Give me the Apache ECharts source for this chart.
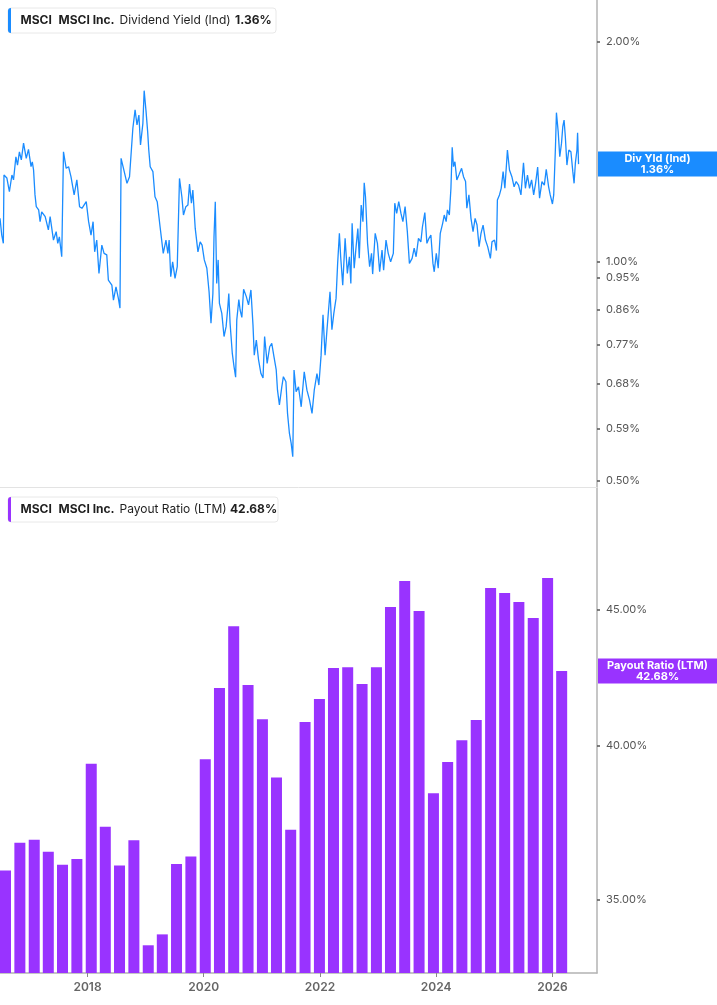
<!DOCTYPE html>
<html>
<head>
<meta charset="utf-8">
<style>
  html, body { margin: 0; padding: 0; background: #fff; }
  #chart1 { width: 717px; height: 1005px; }
</style>
</head>
<body>
<div id="chart1"></div>
<script src="https://cdn.jsdelivr.net/npm/echarts@6/dist/echarts.min.js"></script>
<script>
  // dividend yield (Ind)
  const yieldDates = [
    '2016-06-30','2016-07-11','2016-07-21','2016-07-25','2016-08-12','2016-08-28','2016-09-13','2016-09-23','2016-10-08','2016-10-18',
    '2016-10-30','2016-11-11','2016-11-25','2016-12-12','2016-12-26','2017-01-11','2017-01-19','2017-01-27','2017-02-05','2017-02-13',
    '2017-02-28','2017-03-09','2017-03-19','2017-04-10','2017-04-30','2017-05-11','2017-06-01','2017-06-18','2017-06-28','2017-07-08',
    '2017-07-23','2017-08-03','2017-08-20','2017-09-04','2017-09-19','2017-10-09','2017-10-26','2017-11-12','2017-11-27','2017-12-24',
    '2018-01-08','2018-01-23','2018-02-05','2018-02-15','2018-02-28','2018-03-14','2018-04-01','2018-04-15','2018-05-02','2018-05-12',
    '2018-06-03','2018-06-13','2018-06-29','2018-07-14','2018-07-24','2018-07-31','2018-08-15','2018-09-06','2018-09-22','2018-10-02',
    '2018-10-13','2018-10-27','2018-11-08','2018-11-20','2018-11-30','2018-12-15','2018-12-23','2019-01-04','2019-01-14','2019-01-21',
    '2019-01-30','2019-02-16','2019-03-01','2019-03-15','2019-04-02','2019-04-22','2019-05-09','2019-05-21','2019-05-29','2019-06-08',
    '2019-06-20','2019-07-05','2019-07-19','2019-08-02','2019-08-17','2019-08-27','2019-09-11','2019-09-24','2019-10-04','2019-10-16',
    '2019-10-25','2019-11-09','2019-11-26','2019-12-10','2019-12-22','2020-01-05','2020-01-21','2020-02-04','2020-02-16','2020-02-28',
    '2020-03-06','2020-03-14','2020-03-23','2020-04-01','2020-04-09','2020-04-24','2020-05-08','2020-05-21','2020-06-01','2020-06-07',
    '2020-06-15','2020-06-29','2020-07-10','2020-07-20','2020-07-27','2020-08-09','2020-08-17','2020-08-28','2020-09-08','2020-09-25',
    '2020-10-09','2020-10-24','2020-11-06','2020-11-14','2020-11-27','2020-12-11','2020-12-26','2021-01-08','2021-01-18','2021-02-03',
    '2021-02-19','2021-03-04','2021-03-18','2021-04-01','2021-04-09','2021-04-21','2021-05-06','2021-05-16','2021-06-01','2021-06-11',
    '2021-06-23','2021-07-04','2021-07-14','2021-07-22','2021-08-04','2021-08-19','2021-09-05','2021-09-24','2021-10-11','2021-10-27',
    '2021-11-12','2021-11-26','2021-12-13','2021-12-25','2022-01-08','2022-01-20','2022-02-02','2022-02-14','2022-03-05','2022-03-17',
    '2022-03-29','2022-04-12','2022-04-22','2022-05-03','2022-05-11','2022-05-24','2022-06-08','2022-06-22','2022-07-05','2022-07-14',
    '2022-07-22','2022-08-04','2022-08-16','2022-08-27','2022-09-05','2022-09-17','2022-09-28','2022-10-06','2022-10-14','2022-10-27',
    '2022-11-09','2022-11-21','2022-11-28','2022-12-14','2022-12-28','2023-01-11','2023-01-26','2023-02-05','2023-02-20','2023-03-06',
    '2023-03-21','2023-04-07','2023-04-16','2023-04-28','2023-05-11','2023-05-25','2023-06-06','2023-06-20','2023-07-04','2023-07-17',
    '2023-08-03','2023-08-16','2023-08-28','2023-09-12','2023-09-27','2023-10-07','2023-10-22','2023-11-04','2023-11-17','2023-11-29',
    '2023-12-12','2023-12-20','2024-01-02','2024-01-14','2024-01-27','2024-02-11','2024-02-21','2024-03-04','2024-03-12','2024-03-24',
    '2024-04-03','2024-04-11','2024-04-19','2024-04-28','2024-05-10','2024-05-23','2024-06-09','2024-06-21','2024-07-04','2024-07-12',
    '2024-07-25','2024-08-07','2024-08-20','2024-09-02','2024-09-14','2024-09-27','2024-10-09','2024-10-22','2024-11-06','2024-11-20',
    '2024-12-07','2024-12-17','2025-01-02','2025-01-14','2025-01-20','2025-02-02','2025-02-13','2025-02-25','2025-03-08','2025-03-20',
    '2025-03-24','2025-04-06','2025-04-21','2025-05-05','2025-05-18','2025-06-02','2025-06-17','2025-07-03','2025-07-15','2025-07-28',
    '2025-08-10','2025-08-23','2025-09-05','2025-09-17','2025-09-30','2025-10-12','2025-10-27','2025-11-11','2025-11-23','2025-12-08',
    '2025-12-18','2026-01-01','2026-01-09','2026-01-20','2026-01-26','2026-02-06','2026-02-16','2026-02-27','2026-03-07','2026-03-15',
    '2026-03-23','2026-04-02','2026-04-14','2026-04-27','2026-05-09','2026-05-17','2026-05-25','2026-06-04','2026-06-08','2026-06-14'
  ];
  const yieldValues = [
    1.146,1.087,1.059,1.314,1.302,1.247,1.314,1.294,1.392,1.356,
    1.414,1.378,1.453,1.385,1.425,1.349,1.370,1.335,1.234,1.189,
    1.177,1.134,1.170,1.152,1.105,1.152,1.070,1.099,1.059,1.081,
    1.015,1.414,1.342,1.349,1.307,1.234,1.294,1.189,1.183,1.208,
    1.134,1.087,1.134,1.031,1.070,0.963,1.053,1.026,1.021,0.943,
    0.928,0.885,0.923,0.890,0.863,1.385,1.342,1.280,1.307,1.300,
    1.523,1.614,1.539,1.588,1.445,1.547,1.715,1.605,1.507,1.422,
    1.349,1.328,1.227,1.208,1.116,1.026,1.070,1.026,1.070,0.953,
    0.999,0.948,0.984,1.300,1.227,1.158,1.189,1.195,1.277,1.202,
    1.253,1.110,1.031,1.064,1.053,1.005,0.979,0.909,0.823,0.904,
    1.081,1.208,0.933,1.005,0.876,0.849,0.789,0.814,0.867,0.904,
    0.823,0.748,0.717,0.694,0.831,0.887,0.858,0.838,0.916,0.895,
    0.872,0.914,0.818,0.744,0.780,0.733,0.702,0.692,0.789,0.725,
    0.764,0.772,0.740,0.710,0.666,0.636,0.673,0.695,0.684,0.619,
    0.581,0.563,0.540,0.710,0.663,0.673,0.632,0.706,0.666,0.646,
    0.619,0.666,0.702,0.677,0.744,0.845,0.744,0.806,0.909,0.806,
    0.849,0.890,0.994,1.093,1.015,0.928,1.076,0.963,1.015,0.933,
    1.128,0.979,1.048,1.110,1.010,1.195,1.134,1.282,1.227,1.059,
    0.984,1.026,0.961,1.093,1.059,0.968,1.037,0.973,1.070,1.026,
    0.999,1.026,1.202,1.164,1.208,1.164,1.134,1.189,1.099,0.994,
    1.010,1.043,1.015,1.076,1.064,1.116,1.167,1.059,1.076,1.087,
    0.994,0.968,1.026,0.979,1.093,1.128,1.158,1.134,1.177,1.158,
    1.260,1.434,1.349,1.370,1.294,1.314,1.342,1.307,1.287,1.183,
    1.234,1.146,1.099,1.146,1.122,1.048,1.093,1.122,1.070,1.048,
    1.010,1.064,1.070,1.035,1.214,1.234,1.260,1.328,1.260,1.378,
    1.422,1.335,1.307,1.266,1.287,1.273,1.234,1.366,1.260,1.314,
    1.260,1.294,1.234,1.280,1.347,1.221,1.287,1.273,1.338,1.266,
    1.234,1.199,1.234,1.437,1.600,1.507,1.392,1.453,1.531,1.563,
    1.483,1.356,1.422,1.414,1.328,1.280,1.364,1.422,1.502,1.360
  ];

  // payout ratio (LTM), quarterly
  const payoutDates = [
    '2016-06-30','2016-09-30','2016-12-31','2017-03-31','2017-06-30','2017-09-30','2017-12-31','2018-03-31',
    '2018-06-30','2018-09-30','2018-12-31','2019-03-31','2019-06-30','2019-09-30','2019-12-31','2020-03-31',
    '2020-06-30','2020-09-30','2020-12-31','2021-03-31','2021-06-30','2021-09-30','2021-12-31','2022-03-31',
    '2022-06-30','2022-09-30','2022-12-31','2023-03-31','2023-06-30','2023-09-30','2023-12-31','2024-03-31',
    '2024-06-30','2024-09-30','2024-12-31','2025-03-31','2025-06-30','2025-09-30','2025-12-31','2026-03-31'
  ];
  const payoutValues = [
    35.89, 36.76, 36.86, 36.48, 36.07, 36.25, 39.37, 37.28,
    36.04, 36.84, 33.63, 33.95, 36.09, 36.33, 39.53, 42.05,
    44.37, 42.16, 40.93, 38.91, 37.18, 40.83, 41.65, 42.79,
    42.82, 42.20, 42.82, 45.12, 46.15, 44.96, 38.38, 39.43,
    40.19, 40.90, 45.87, 45.67, 45.31, 44.69, 46.27, 42.68
  ];

  const yieldTicks = [0.5, 0.59, 0.68, 0.77, 0.86, 0.95, 1.0, 2.0];
  const payoutTicks = [35, 40, 45];
  const yearTicks = [2018, 2020, 2022, 2024, 2026];

  const BLUE = '#1a8cff';
  const PURPLE = '#9933ff';
  const FONT = 'Inter';
  const X_MIN = '2016-06-30';
  const X_MAX = '2026-10-08';
  // same span as decimal years, for the year tick axis
  const YEAR_MIN = 2016.4945;
  const YEAR_MAX = 2026.767;
  const GRID_RIGHT = 120;

  let myChart = echarts.init(document.getElementById('chart1'));

  function pct(v) {
    return v.toFixed(2) + '%';
  }

  function rightAxis(grid, min, max, ticks) {
    return {
      type: 'log',
      logBase: 10,
      gridIndex: grid,
      position: 'right',
      min: min,
      max: max,
      axisLine: { show: true, lineStyle: { color: '#b3b3b3', width: 1.5 } },
      axisTick: { show: true, customValues: ticks, length: 3, lineStyle: { color: '#555', width: 1.5 } },
      axisLabel: { customValues: ticks, formatter: pct, color: '#555', fontSize: 11, fontFamily: FONT, margin: 9 },
      splitLine: { show: false }
    };
  }

  let option = {
    animation: false,
    backgroundColor: '#fff',
    grid: [
      { left: 0, right: GRID_RIGHT, top: 0, height: 487 },
      { left: 0, right: GRID_RIGHT, top: 488, height: 485 }
    ],
    xAxis: [
      {
        type: 'time', gridIndex: 0, min: X_MIN, max: X_MAX, position: 'bottom',
        axisLine: { show: true, lineStyle: { color: '#e3e3e3', width: 1 } },
        axisTick: { show: false },
        axisLabel: { show: false },
        splitLine: { show: false }
      },
      {
        type: 'time', gridIndex: 1, min: X_MIN, max: X_MAX, position: 'bottom',
        axisLine: { show: true, lineStyle: { color: '#b3b3b3', width: 1.5 } },
        axisTick: { show: false },
        axisLabel: { show: false },
        splitLine: { show: false }
      },
      {
        type: 'value', gridIndex: 1, min: YEAR_MIN, max: YEAR_MAX, position: 'bottom',
        axisLine: { show: false },
        axisTick: { show: true, customValues: yearTicks, length: 4, lineStyle: { color: '#888' } },
        axisLabel: {
          customValues: yearTicks,
          formatter: function (v) { return String(Math.round(v)); },
          color: '#666', fontSize: 12, fontWeight: 600, fontFamily: FONT, margin: 8
        },
        splitLine: { show: false }
      }
    ],
    yAxis: [
      rightAxis(0, 0.4906, 2.2836, yieldTicks),
      rightAxis(1, 32.83, 50.03, payoutTicks)
    ],
    series: [
      {
        type: 'line',
        xAxisIndex: 0, yAxisIndex: 0,
        showSymbol: false,
        lineStyle: { color: BLUE, width: 1.3 },
        itemStyle: { color: BLUE },
        data: yieldDates.map(function (d, i) { return [d, yieldValues[i]]; })
      },
      {
        type: 'bar',
        xAxisIndex: 1, yAxisIndex: 1,
        barWidth: 11,
        clip: true,
        itemStyle: { color: PURPLE },
        data: payoutDates.map(function (d, i) { return [d, payoutValues[i]]; })
      }
    ]
  };
  myChart.setOption(option);

  // legend boxes at top-left of each panel
  function legendBox(y, color, metric, value, valueX, width) {
    let txt = function (x, s, bold) {
      return {
        type: 'text', x: x, y: 12.5,
        style: { text: s, fill: '#1f1f1f', fontSize: 12, fontFamily: FONT, fontWeight: bold ? 700 : 400, verticalAlign: 'middle' }
      };
    };
    return {
      type: 'group', x: 8, y: y,
      children: [
        { type: 'rect', shape: { x: 0, y: 0, width: width, height: 25, r: 3 }, style: { fill: '#fff', stroke: '#e8e8e8', lineWidth: 1 } },
        { type: 'rect', shape: { x: 0, y: 0, width: 3, height: 25, r: [3, 0, 0, 3] }, style: { fill: color } },
        txt(12.5, 'MSCI', true),
        txt(50.5, 'MSCI Inc.', true),
        txt(111.5, metric, false),
        txt(valueX, value, true)
      ]
    };
  }

  // value tag on the right axis, placed through the axis scale
  function valueTag(yAxisIndex, val, color, name) {
    let py = myChart.convertToPixel({ yAxisIndex: yAxisIndex }, val);
    let x0 = 717 - GRID_RIGHT + 1;
    return {
      type: 'group', x: x0, y: py,
      children: [
        { type: 'rect', shape: { x: 0, y: -12.5, width: GRID_RIGHT, height: 25 }, style: { fill: color } },
        {
          type: 'text', x: (GRID_RIGHT - 1) / 2, y: 0,
          style: {
            text: name + '\n' + pct(val), fill: '#fff', fontSize: 11, fontWeight: 700, fontFamily: FONT,
            align: 'center', verticalAlign: 'middle', lineHeight: 11
          }
        }
      ]
    };
  }

  let lastYield = yieldValues[yieldValues.length - 1];
  let lastPayout = payoutValues[payoutValues.length - 1];
  myChart.setOption({
    graphic: [
      legendBox(8, BLUE, 'Dividend Yield (Ind)', pct(lastYield), 227, 268),
      legendBox(497, PURPLE, 'Payout Ratio (LTM)', pct(lastPayout), 222, 270),
      valueTag(0, lastYield, BLUE, 'Div Yld (Ind)'),
      valueTag(1, lastPayout, PURPLE, 'Payout Ratio (LTM)')
    ]
  });
</script>
</body>
</html>
